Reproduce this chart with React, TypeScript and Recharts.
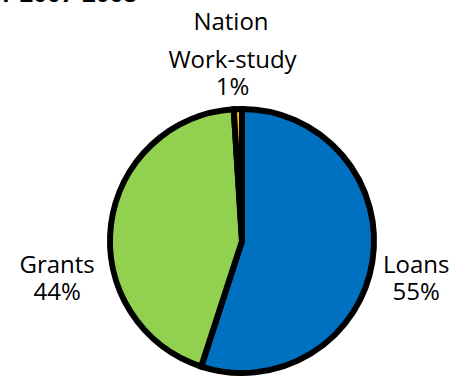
import React from 'react';
import { PieChart, Pie, Cell } from 'recharts';

const categories = ['Loans', 'Grants', 'Work-study'];
const shares = [55, 44, 1];
const colors = ['#0070C0', '#92D050', '#FFC000'];

const data = categories.map((name, i) => ({ name, value: shares[i] }));

const RADIAN = Math.PI / 180;
const FONT = '"Open Sans", sans-serif';
const FS = 24;

const renderLabel = (props: any) => {
  const { cx, cy, midAngle, outerRadius, name, value } = props;
  const r = outerRadius + 10;
  const cos = Math.cos(-midAngle * RADIAN);
  const sin = Math.sin(-midAngle * RADIAN);
  const x = cx + r * cos;
  const y = cy + r * sin;
  const pct = `${value}%`;
  if (sin < -0.9) {
    return (
      <text textAnchor='middle' fontFamily={FONT} fontSize={FS} fill='#000'>
        <tspan x={x - 5} y={y - 31}>{name}</tspan>
        <tspan x={x - 5} y={y - 4}>{pct}</tspan>
      </text>
    );
  }
  const mx = cos > 0 ? x + 34 : x - 44;
  const by = cy + 32;
  return (
    <text textAnchor='middle' fontFamily={FONT} fontSize={FS} fill='#000'>
      <tspan x={mx} y={by}>{name}</tspan>
      <tspan x={mx} y={by + 27}>{pct}</tspan>
    </text>
  );
};

const App = () => {
  return (
    <div style={{ position: 'absolute', left: 0, top: 0 }}>
      <PieChart width={461} height={379} margin={{ top: 0, right: 0, bottom: 0, left: 0 }}>
        <text x={137} y={2} textAnchor='end' fontFamily={FONT} fontWeight='bold' fontSize={24} fill='#000'>
          r 2007-2008
        </text>
        <text x={231} y={30} textAnchor='middle' fontFamily={FONT} fontSize={FS} fill='#000'>
          Nation
        </text>
        <Pie
          data={data}
          dataKey='value'
          nameKey='name'
          cx={242}
          cy={241}
          outerRadius={132}
          startAngle={90}
          endAngle={-270}
          stroke='#000'
          strokeWidth={6}
          label={renderLabel}
          labelLine={false}
          isAnimationActive={false}
        >
          {data.map((d, i) => (
            <Cell key={d.name} fill={colors[i]} />
          ))}
        </Pie>
      </PieChart>
    </div>
  );
};

export default App;
